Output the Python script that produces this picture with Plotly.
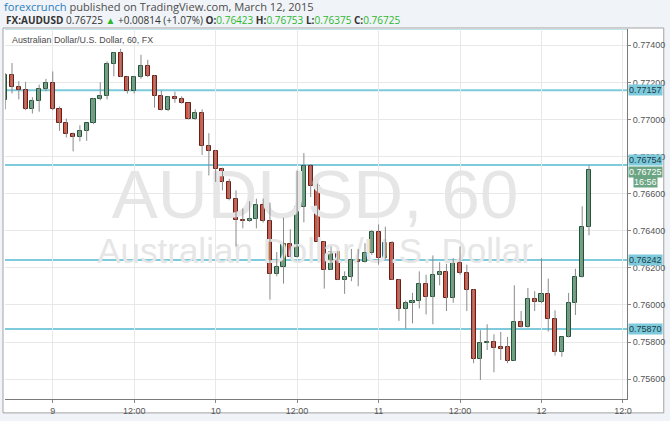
import plotly.graph_objects as go
import pandas as pd

# ---- data (hourly AUD/USD candles) ----
start_time = "2015-03-08 17:00"
opens = [0.77105, 0.77242, 0.77176, 0.77160, 0.77055, 0.77099, 0.77165, 0.77194, 0.77058, 0.76980,
         0.76924, 0.76903, 0.76939, 0.76980, 0.77113, 0.77126, 0.77299, 0.77358, 0.77230, 0.77153,
         0.77230, 0.77286, 0.77233, 0.77126, 0.77051, 0.77120, 0.77112, 0.77087, 0.77005, 0.77033,
         0.76858, 0.76832, 0.76734, 0.76662, 0.76570, 0.76457, 0.76452, 0.76465, 0.76538, 0.76452,
         0.76168, 0.76203, 0.76331, 0.76259, 0.76529, 0.76748, 0.76644, 0.76342, 0.76190, 0.76288,
         0.76136, 0.76149, 0.76240, 0.76230, 0.76281, 0.76392, 0.76252, 0.76334, 0.76136, 0.75976,
         0.76012, 0.76021, 0.76115, 0.76044, 0.76163, 0.76176, 0.76035, 0.76226, 0.76172, 0.76080,
         0.75709, 0.75793, 0.75798, 0.75772, 0.75772, 0.75700, 0.75910, 0.75883, 0.76033, 0.76016,
         0.76060, 0.75926, 0.75744, 0.75828, 0.76008, 0.76151, 0.76423]
highs = [0.77250, 0.77304, 0.77206, 0.77203, 0.77120, 0.77188, 0.77219, 0.77259, 0.77070, 0.77005,
         0.76930, 0.76969, 0.76982, 0.77115, 0.77201, 0.77313, 0.77363, 0.77381, 0.77235, 0.77235,
         0.77349, 0.77322, 0.77238, 0.77156, 0.77125, 0.77150, 0.77125, 0.77090, 0.77055, 0.77055,
         0.76926, 0.76835, 0.76740, 0.76680, 0.76618, 0.76520, 0.76559, 0.76573, 0.76573, 0.76552,
         0.76285, 0.76470, 0.76408, 0.76725, 0.76819, 0.76760, 0.76654, 0.76345, 0.76315, 0.76290,
         0.76181, 0.76302, 0.76302, 0.76333, 0.76404, 0.76434, 0.76422, 0.76345, 0.76140, 0.76024,
         0.76065, 0.76181, 0.76163, 0.76267, 0.76231, 0.76222, 0.76252, 0.76315, 0.76217, 0.76085,
         0.75864, 0.75896, 0.75842, 0.75855, 0.75828, 0.76106, 0.75967, 0.76092, 0.76074, 0.76252,
         0.76142, 0.75971, 0.75830, 0.76065, 0.76195, 0.76532, 0.76753]
lows = [0.77055, 0.77140, 0.77108, 0.77050, 0.77032, 0.77042, 0.77152, 0.77050, 0.76939, 0.76903,
        0.76828, 0.76882, 0.76885, 0.76975, 0.77103, 0.77108, 0.77233, 0.77228, 0.77140, 0.77140,
        0.77219, 0.77228, 0.77064, 0.77048, 0.77045, 0.77090, 0.77085, 0.77000, 0.76998, 0.76809,
        0.76698, 0.76663, 0.76618, 0.76564, 0.76315, 0.76413, 0.76448, 0.76413, 0.76444, 0.76029,
        0.76155, 0.76115, 0.76259, 0.76255, 0.76445, 0.76582, 0.76340, 0.76088, 0.76188, 0.76134,
        0.76060, 0.76128, 0.76101, 0.76228, 0.76270, 0.76217, 0.76245, 0.76134, 0.75914, 0.75873,
        0.75901, 0.75981, 0.75949, 0.75896, 0.76106, 0.75967, 0.76012, 0.76163, 0.75967, 0.75686,
        0.75596, 0.75757, 0.75637, 0.75703, 0.75686, 0.75698, 0.75878, 0.75878, 0.75967, 0.76010,
        0.75857, 0.75727, 0.75721, 0.75825, 0.75946, 0.76148, 0.76375]
closes = [0.77242, 0.77176, 0.77160, 0.77055, 0.77099, 0.77165, 0.77194, 0.77058, 0.76980, 0.76924,
          0.76903, 0.76939, 0.76980, 0.77113, 0.77126, 0.77299, 0.77358, 0.77230, 0.77153, 0.77230,
          0.77286, 0.77233, 0.77126, 0.77051, 0.77120, 0.77112, 0.77087, 0.77005, 0.77033, 0.76858,
          0.76832, 0.76734, 0.76662, 0.76570, 0.76457, 0.76452, 0.76465, 0.76538, 0.76452, 0.76168,
          0.76203, 0.76331, 0.76259, 0.76529, 0.76748, 0.76644, 0.76342, 0.76190, 0.76288, 0.76136,
          0.76149, 0.76240, 0.76230, 0.76281, 0.76392, 0.76252, 0.76334, 0.76136, 0.75976, 0.76012,
          0.76021, 0.76115, 0.76044, 0.76163, 0.76176, 0.76035, 0.76226, 0.76172, 0.76080, 0.75709,
          0.75793, 0.75798, 0.75767, 0.75765, 0.75700, 0.75910, 0.75883, 0.76033, 0.76016, 0.76060,
          0.75926, 0.75744, 0.75828, 0.76008, 0.76151, 0.76423, 0.76725]

level_lines = [0.77490, 0.77157, 0.76754, 0.76242, 0.75870]
last_price = 0.76725
countdown = "16:56"

x_tick_vals = ["2015-03-09 00:00", "2015-03-09 12:00", "2015-03-10 00:00", "2015-03-10 12:00",
               "2015-03-11 00:00", "2015-03-11 12:00", "2015-03-12 00:00", "2015-03-12 12:00"]
x_tick_text = ["9", "12:00", "10", "12:00", "11", "12:00", "12", "12:0"]
y_tick_vals = [0.756, 0.758, 0.760, 0.762, 0.764, 0.766, 0.768, 0.770, 0.772, 0.774]

times = pd.date_range(start_time, periods=len(opens), freq="h")

# ---- styling ----
UP_FILL, UP_LINE = "#6ba583", "#225437"
DN_FILL, DN_LINE = "#d75442", "#6b1f16"
WICK = "#8a8a8a"
CYAN = "#7ccadb"
FONT = "Liberation Sans, Arial, sans-serif"
HFONT = "Open Sans, Arial, sans-serif"

x_range = [times[0] - pd.Timedelta(minutes=2), times[0] + pd.Timedelta(hours=91.6)]
y_range = [0.75493, 0.774878]

fig = go.Figure()

# watermark (behind the candles)
xr0, xr1 = x_range
x_mid = xr0 + (xr1 - xr0) * 0.4985
y_span = y_range[1] - y_range[0]
fig.add_trace(go.Scatter(x=[x_mid], y=[y_range[0] + y_span * 0.535], mode="text",
                         text=["AUDUSD, 60"], textposition="middle center",
                         textfont=dict(family=FONT, size=69, color="#e6e6e6"),
                         hoverinfo="skip", showlegend=False))
fig.add_trace(go.Scatter(x=[x_mid], y=[y_range[0] + y_span * 0.392], mode="text",
                         text=["Australian Dollar/U.S. Dollar"], textposition="middle center",
                         textfont=dict(family=FONT, size=35, color="#e6e6e6"),
                         hoverinfo="skip", showlegend=False))

# wicks
wx, wy = [], []
for t, lo, hi in zip(times, lows, highs):
    wx += [t, t, None]
    wy += [lo, hi, None]
fig.add_trace(go.Scatter(x=wx, y=wy, mode="lines", line=dict(color=WICK, width=1),
                         hoverinfo="skip", showlegend=False))

# bodies
base = [min(o, c) for o, c in zip(opens, closes)]
height = [abs(c - o) for o, c in zip(opens, closes)]
fills = [UP_FILL if c >= o else DN_FILL for o, c in zip(opens, closes)]
borders = [UP_LINE if c >= o else DN_LINE for o, c in zip(opens, closes)]
fig.add_trace(go.Bar(x=times, y=height, base=base, width=0.6 * 3600 * 1000,
                     marker=dict(color=fills, line=dict(color=borders, width=1)),
                     hoverinfo="skip", showlegend=False))

# horizontal level lines + labels
shapes = []
annotations = []
for lv in level_lines:
    shapes.append(dict(type="line", xref="paper", x0=0, x1=1, yref="y", y0=lv, y1=lv,
                       line=dict(color=CYAN, width=2), layer="between"))
label_shift = {0.77490: -2, 0.76754: 5}
for lv in level_lines:
    annotations.append(dict(xref="paper", x=1, xanchor="left", xshift=1, yref="y", y=lv,
                            yanchor="middle", yshift=label_shift.get(lv, 0),
                            text=f"{lv:.5f}", showarrow=False, bgcolor=CYAN, borderpad=0,
                            font=dict(family=FONT, size=9, color="#1d3a46")))
annotations.append(dict(xref="paper", x=1, xanchor="left", xshift=1, yref="y", y=last_price,
                        yanchor="middle", yshift=-2, text=f"{last_price:.5f}", showarrow=False,
                        bgcolor=UP_FILL, borderpad=0, font=dict(family=FONT, size=9, color="#ffffff")))
annotations.append(dict(xref="paper", x=1, xanchor="left", xshift=6, yref="y", y=last_price,
                        yanchor="middle", yshift=-12, text=countdown, showarrow=False,
                        bgcolor=UP_FILL, borderpad=0, font=dict(family=FONT, size=9, color="#ffffff")))

# chart frame (white panel with border)
W, H = 670, 421
L, R, T, B = 5, 39, 29, 19
pw, ph = W - L - R, H - T - B
def px2paper_x(px):
    return (px - L) / pw
def py2paper_y(py):
    return (H - B - py) / ph
shapes.insert(0, dict(type="rect", xref="paper", yref="paper",
                      x0=px2paper_x(3), x1=px2paper_x(668), y0=py2paper_y(416), y1=py2paper_y(28),
                      fillcolor="#ffffff", line=dict(color="#a3a3a3", width=1), layer="below"))

# title inside chart
annotations.append(dict(xref="paper", yref="paper", x=px2paper_x(10), y=py2paper_y(40),
                        xanchor="left", yanchor="middle", showarrow=False,
                        text="Australian Dollar/U.S. Dollar, 60, FX",
                        font=dict(family=FONT, size=8.9, color="#4a4a4a")))

# header lines
annotations.append(dict(xref="paper", yref="paper", x=px2paper_x(2), y=py2paper_y(6.5),
                        xanchor="left", yanchor="middle", showarrow=False,
                        text="<span style='color:#2b7fc0'>forexcrunch</span> published on TradingView.com, March 12, 2015",
                        font=dict(family=HFONT, size=11.1, color="#4d4d4d")))
G = "#2eb82e"
annotations.append(dict(xref="paper", yref="paper", x=px2paper_x(4), y=py2paper_y(19.5),
                        xanchor="left", yanchor="middle", showarrow=False,
                        text=("<b>FX:AUDUSD</b> 0.76725 <span style='color:#2eb82e'>▲</span> +0.00814 (+1.07%) "
                              f"<b>O:</b><span style='color:{G}'>0.76423</span> "
                              f"<b>H:</b><span style='color:{G}'>0.76753</span> "
                              f"<b>L:</b><span style='color:{G}'>0.76375</span> "
                              f"<b>C:</b><span style='color:{G}'>0.76725</span>"),
                        font=dict(family=HFONT, size=10, color="#333333")))

fig.update_layout(
    width=W, height=H,
    margin=dict(l=L, r=R, t=T, b=B),
    paper_bgcolor="#f0f3f7",
    plot_bgcolor="#ffffff",
    showlegend=False,
    bargap=0,
    shapes=shapes,
    annotations=annotations,
    xaxis=dict(type="date", range=x_range, tickvals=x_tick_vals, ticktext=x_tick_text,
               showgrid=True, gridcolor="#e8e8e8", gridwidth=1, zeroline=False,
               ticks="outside", ticklen=3, tickcolor="#888888",
               showline=True, linecolor="#7a7a7a", linewidth=1,
               tickfont=dict(family=FONT, size=9, color="#555555"), fixedrange=True),
    yaxis=dict(side="right", range=y_range, tickvals=y_tick_vals, tickformat=".5f",
               showgrid=True, gridcolor="#e8e8e8", gridwidth=1, zeroline=False,
               ticks="outside", ticklen=3, tickcolor="#888888",
               showline=True, linecolor="#7a7a7a", linewidth=1,
               tickfont=dict(family=FONT, size=9, color="#555555"), fixedrange=True),
)

fig.write_html("out.html", config={"displayModeBar": False},
               post_script="document.body.style.margin='0';document.body.style.background='#f0f3f7';")
